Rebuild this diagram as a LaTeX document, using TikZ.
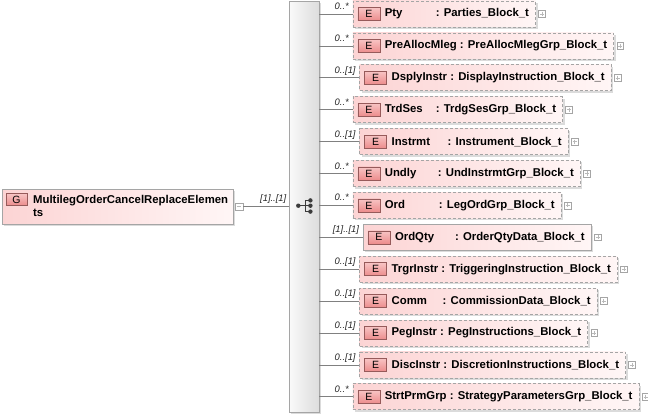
\documentclass[tikz,border=0pt]{standalone}
\usepackage{fontspec}
\setmainfont{Liberation Sans}
\usetikzlibrary{shadows}
\definecolor{pinkL}{RGB}{252,212,212}
\definecolor{pinkR}{RGB}{255,246,246}
\definecolor{badgeT}{RGB}{248,196,196}
\definecolor{badgeB}{RGB}{236,140,140}
\definecolor{badgeD}{RGB}{150,90,90}
\definecolor{lineC}{RGB}{128,128,128}
\definecolor{boxC}{RGB}{165,165,165}
\definecolor{iconC}{RGB}{60,60,60}
\tikzset{
  myshadow/.style={general shadow={fill=black!14, shadow xshift=2pt, shadow yshift=-2pt}},
  ebox/.style={draw=boxC, dash pattern=on 3pt off 2pt, line width=0.7pt,
    left color=pinkL, right color=pinkR, minimum height=26pt,
    inner xsep=0pt, inner ysep=0pt, anchor=west,
    font=\bfseries\fontsize{11.35}{13}\selectfont, text=black, myshadow},
  ebadge/.style={draw=badgeD, line width=0.5pt, top color=badgeT, bottom color=badgeB,
    minimum width=22pt, minimum height=13pt, inner sep=0pt, anchor=west,
    font=\fontsize{10.5}{12}\selectfont, text=black},
  plusicon/.style={draw=boxC, fill=white, line width=0.5pt, minimum size=6.8pt,
    inner sep=0pt, anchor=west,
    path picture={\draw[gray!55, line width=0.5pt]
      ([xshift=1.4pt]path picture bounding box.west) -- ([xshift=-1.4pt]path picture bounding box.east)
      ([yshift=-1.4pt]path picture bounding box.north) -- ([yshift=1.4pt]path picture bounding box.south);}},
  minusicon/.style={draw=boxC, fill=white, line width=0.5pt, minimum size=7.5pt,
    inner sep=0pt,
    path picture={\draw[gray!55, line width=0.5pt]
      ([xshift=1.5pt]path picture bounding box.west) -- ([xshift=-1.5pt]path picture bounding box.east);}},
  conn/.style={draw=lineC, line width=0.7pt},
  multlbl/.style={anchor=base east, inner sep=0pt, font=\itshape\fontsize{9.4}{11}\selectfont, text=black!85},
  seqbox/.style={draw=boxC, line width=0.7pt, left color=gray!4, right color=gray!27,
    anchor=north west, minimum width=30pt, minimum height=411pt, inner sep=0pt, myshadow},
  gbox/.style={draw=boxC, line width=0.7pt, left color=pinkL, right color=pinkR,
    anchor=north west, minimum width=231pt, minimum height=35pt, inner sep=0pt, myshadow},
}
\newcommand\erow[6]{%
  \node[ebox,#6] (#1) at (#3,#2) {\hspace*{32pt}#5\hspace*{6.5pt}};
  \node[ebadge] at ([xshift=5pt]#1.west) {E};
  \node[plusicon] at ([xshift=2.5pt]#1.east) {};
  \draw[conn] (seq.east |- #1.west) -- (#1.west);
  \node[multlbl] at ([xshift=-3.5pt,yshift=4.5pt]#1.west) {#4};
}
\begin{document}
\begin{tikzpicture}[x=1pt,y=-1pt]
\useasboundingbox[fill=white] (0,0) rectangle (648,417);
% sequence compositor
\node[seqbox] (seq) at (288.7,0.7) {};
% root group
\node[gbox] (g) at (2,189) {};
\node[ebadge, minimum width=21pt, minimum height=12pt, anchor=center] (gb) at (16.5,199.5) {G};
\node[anchor=west, inner sep=0pt, align=left, font=\bfseries\fontsize{11.35}{13.6}\selectfont] (gt) at (33,206) {MultilegOrderCancelReplaceElemen\\ts};
\node[minusicon] (gm) at (239,206.5) {};
\draw[conn] (gm.east) -- (seq.west |- gm.east);
\node[multlbl] (gml) at (286.5,201.5) {[1]..[1]};
% sequence icon
\coordinate (ia) at (298.3,205.7);
\coordinate (ib) at (305,205.7);
\coordinate (ic) at (305,200.4);
\coordinate (id) at (305,211.6);
\coordinate (d1) at (310.4,200.4);
\coordinate (d2) at (310.4,205.7);
\coordinate (d3) at (310.4,211.6);
\draw[iconC, line width=1pt] (ia) -- (ib) (ic) -- (id) (ic) -- (d1) (ib) -- (d2) (id) -- (d3);
\fill[iconC] (ia) circle (2.2pt) (d1) circle (2.2pt) (d2) circle (2.2pt) (d3) circle (2.2pt);
% child elements
\erow{r0}{14}{352.5}{0..*}{\makebox[51pt][l]{Pty}: Parties\_Block\_t}{}
\erow{r1}{45.9}{352.5}{0..*}{PreAllocMleg : PreAllocMlegGrp\_Block\_t}{}
\erow{r2}{77.8}{359.3}{0..[1]}{DsplyInstr : DisplayInstruction\_Block\_t}{}
\erow{r3}{109.7}{352.5}{0..*}{\makebox[51pt][l]{TrdSes}: TrdgSesGrp\_Block\_t}{}
\erow{r4}{141.6}{359.3}{0..[1]}{\makebox[56pt][l]{Instrmt}: Instrument\_Block\_t}{}
\erow{r5}{173.5}{352.5}{0..*}{\makebox[53pt][l]{Undly}: UndInstrmtGrp\_Block\_t}{}
\erow{r6}{205.4}{352.5}{0..*}{\makebox[54pt][l]{Ord}: LegOrdGrp\_Block\_t}{}
\erow{r7}{237.3}{362.7}{[1]..[1]}{\makebox[60pt][l]{OrdQty}: OrderQtyData\_Block\_t}{solid}
\erow{r8}{269.2}{359.3}{0..[1]}{TrgrInstr : TriggeringInstruction\_Block\_t}{}
\erow{r9}{301.1}{359.3}{0..[1]}{\makebox[51pt][l]{Comm}: CommissionData\_Block\_t}{}
\erow{r10}{333}{359.3}{0..[1]}{PegInstr : PegInstructions\_Block\_t}{}
\erow{r11}{364.9}{359.3}{0..[1]}{DiscInstr : DiscretionInstructions\_Block\_t}{}
\erow{r12}{396.8}{352.5}{0..*}{StrtPrmGrp : StrategyParametersGrp\_Block\_t}{}
\end{tikzpicture}
\end{document}
